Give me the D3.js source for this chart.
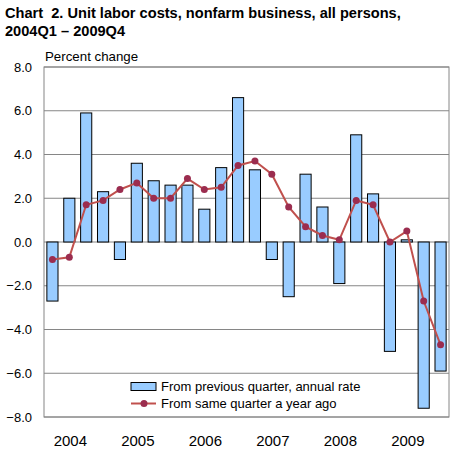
<!DOCTYPE html>
<html>
<head>
<meta charset="utf-8">
<script src="https://cdn.jsdelivr.net/npm/d3@7"></script>
<style>
  body { margin: 0; background: #fff; }
  text { font-family: "Liberation Sans", Arial, sans-serif; }
</style>
</head>
<body>
<div id="app"></div>
<script>
// Quarters and values
const years = ['2004', '2005', '2006', '2007', '2008', '2009'];
const quarters = years.flatMap(y => ['Q1', 'Q2', 'Q3', 'Q4'].map(q => y + q));
const prevQuarter = [-2.7, 2.0, 5.9, 2.3, -0.8, 3.6, 2.8, 2.6, 2.6, 1.5, 3.4, 6.6,
                     3.3, -0.8, -2.5, 3.1, 1.6, -1.9, 4.9, 2.2, -5.0, 0.1, -7.6, -5.9];
const yearAgo = [-0.8, -0.7, 1.7, 1.9, 2.4, 2.7, 2.0, 2.0, 2.9, 2.4, 2.5, 3.5,
                 3.7, 3.1, 1.6, 0.7, 0.3, 0.1, 1.9, 1.7, 0.0, 0.5, -2.7, -4.7];
const yTicks = [-8, -6, -4, -2, 0, 2, 4, 6, 8];

const width = 467, height = 454;
const plot = { left: 44, right: 449, top: 67, bottom: 417 };

const svg = d3.select('#app').append('svg')
    .attr('width', width)
    .attr('height', height);

const x = d3.scaleBand()
    .domain(quarters)
    .range([plot.left, plot.right])
    .paddingInner(0.34)
    .paddingOuter(0.17);

const y = d3.scaleLinear()
    .domain([-8, 8])
    .range([plot.bottom, plot.top]);

// Title
const title = svg.append('text')
    .attr('x', 5)
    .attr('y', 18)
    .attr('fill', '#000')
    .style('font-size', '14.6px')
    .style('font-weight', 'bold');
title.append('tspan').attr('x', 5).text('Chart\u00a0 2. Unit labor costs, nonfarm business, all persons,');
title.append('tspan').attr('x', 5).attr('dy', '18').text('2004Q1 \u2013 2009Q4');

svg.append('text')
    .attr('x', 45)
    .attr('y', 61)
    .style('font-size', '13.3px')
    .attr('fill', '#000')
    .text('Percent change');

// Gridlines
svg.append('g')
    .selectAll('line')
    .data(yTicks)
    .enter().append('line')
    .attr('x1', plot.left)
    .attr('x2', plot.right)
    .attr('y1', d => y(d))
    .attr('y2', d => y(d))
    .attr('stroke', '#868686')
    .attr('stroke-width', 1);

// Plot border
svg.append('rect')
    .attr('x', plot.left)
    .attr('y', plot.top)
    .attr('width', plot.right - plot.left)
    .attr('height', plot.bottom - plot.top)
    .attr('fill', 'none')
    .attr('stroke', '#868686')
    .attr('stroke-width', 1);

// Y axis labels
const yAxis = d3.axisLeft(y)
    .tickValues(yTicks)
    .tickFormat(d3.format('.1f'))
    .tickSize(0)
    .tickPadding(12);

svg.append('g')
    .attr('transform', `translate(${plot.left},0)`)
    .call(yAxis)
    .call(g => g.select('.domain').remove())
    .call(g => g.selectAll('text')
        .style('font-size', '13px')
        .style('font-family', '"Liberation Sans", Arial, sans-serif')
        .attr('fill', '#000'));

// Bars
svg.append('g')
    .selectAll('rect')
    .data(quarters)
    .enter().append('rect')
    .attr('x', (d, i) => x(d))
    .attr('width', x.bandwidth())
    .attr('y', (d, i) => y(Math.max(0, prevQuarter[i])))
    .attr('height', (d, i) => Math.abs(y(prevQuarter[i]) - y(0)))
    .attr('fill', '#99ccff')
    .attr('stroke', '#000')
    .attr('stroke-width', 1);

// Line
const line = d3.line()
    .x((d, i) => x(quarters[i]) + x.bandwidth() / 2)
    .y(d => y(d));

svg.append('path')
    .datum(yearAgo)
    .attr('d', line)
    .attr('fill', 'none')
    .attr('stroke', '#c0504d')
    .attr('stroke-width', 2);

svg.append('g')
    .selectAll('circle')
    .data(yearAgo)
    .enter().append('circle')
    .attr('cx', (d, i) => x(quarters[i]) + x.bandwidth() / 2)
    .attr('cy', d => y(d))
    .attr('r', 3.5)
    .attr('fill', '#9b2d4f');

// X axis year labels
svg.append('g')
    .selectAll('text')
    .data(years)
    .enter().append('text')
    .attr('x', d => x(d + 'Q2') + x.bandwidth() / 2 + 1)
    .attr('y', 446)
    .attr('text-anchor', 'middle')
    .attr('fill', '#000')
    .style('font-size', '15px')
    .text(d => d);

// Legend
const legend = svg.append('g');
legend.append('rect')
    .attr('x', 131)
    .attr('y', 382.5)
    .attr('width', 25)
    .attr('height', 8)
    .attr('fill', '#99ccff')
    .attr('stroke', '#000')
    .attr('stroke-width', 1);
legend.append('text')
    .attr('x', 161)
    .attr('y', 391)
    .attr('fill', '#000')
    .style('font-size', '13px')
    .text('From previous quarter, annual rate');
legend.append('line')
    .attr('x1', 131)
    .attr('x2', 156)
    .attr('y1', 403.5)
    .attr('y2', 403.5)
    .attr('stroke', '#c0504d')
    .attr('stroke-width', 2);
legend.append('circle')
    .attr('cx', 144)
    .attr('cy', 403.5)
    .attr('r', 3.5)
    .attr('fill', '#9b2d4f');
legend.append('text')
    .attr('x', 161)
    .attr('y', 408)
    .attr('fill', '#000')
    .style('font-size', '13px')
    .text('From same quarter a year ago');
</script>
</body>
</html>
